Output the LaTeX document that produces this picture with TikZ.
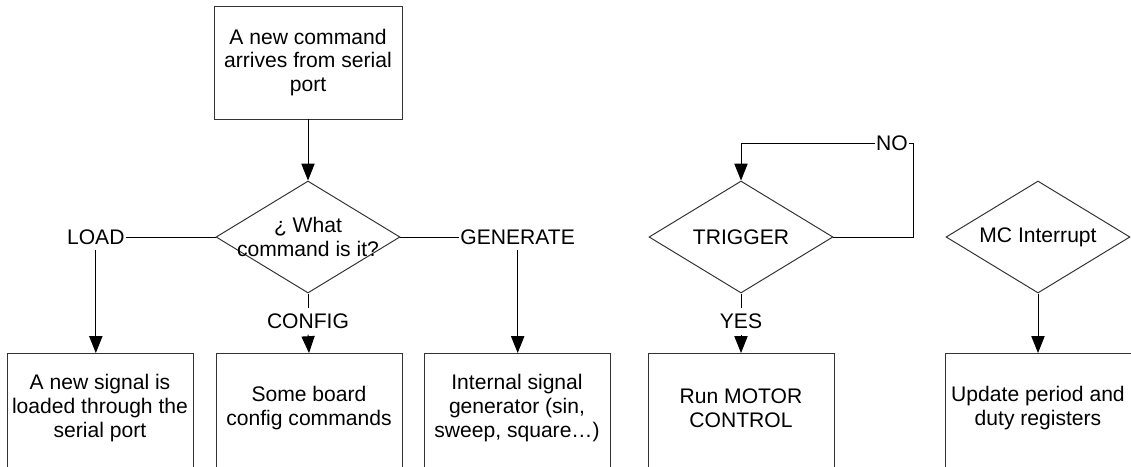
\documentclass[tikz,border=0pt]{standalone}
\usepackage{fontspec}
\setmainfont{Liberation Sans}
\usetikzlibrary{arrows.meta, positioning, shapes.geometric}

\begin{document}
\begin{tikzpicture}
\tikzset{
  block/.style={draw=black!80, line width=0.7pt, minimum width=4.65cm, minimum height=4cm, inner sep=0pt, anchor=north},
  decision/.style={draw=black!80, line width=0.7pt, diamond, minimum width=4.6cm, minimum height=2.8cm, inner sep=0pt},
  txt/.style={align=center, font=\fontsize{15}{17}\selectfont},
  tag/.style={font=\fontsize{15}{17}\selectfont, inner xsep=0.5pt, inner ysep=4pt},
  line/.style={draw=black, line width=0.7pt},
  arrow/.style={line, -{Triangle[width=0.33cm,length=0.42cm]}}
}

\clip (0,0) rectangle (28.275,-11.65);

\coordinate (T) at (7.7,-1.5625);
\coordinate (Q) at (7.7,-5.925);
\coordinate (G) at (18.525,-5.925);
\coordinate (M) at (25.95,-5.925);
\coordinate (C) at (22.825,-3.575);

\node[block, minimum width=4.7cm, minimum height=2.825cm, anchor=center, txt] (arrive) at (T) {A new command\\arrives from serial\\port};

\node[decision] (what) at (Q) {};
\node[txt] (whattxt) at (what) {¿ What\\command is it?};
\node[decision] (trig) at (G) {};
\node[txt] (trigtxt) at (trig) {TRIGGER};
\node[decision] (mc) at (M) {};
\node[txt] (mctxt) at (mc) {MC Interrupt};

\node[tag, left=2.25cm of what] (load) {LOAD};
\node[tag, right=1.475cm of what] (gen) {GENERATE};
\node[tag, below=0.36cm of what] (conf) {CONFIG};
\node[tag, below=0.36cm of trig] (yes) {YES};
\node[tag] (no) at (22.3,-3.575) {NO};

\node[block] (sig) at (2.5,-8.825) {};
\node[block] (board) at (7.725,-8.825) {};
\node[block] (intgen) at (12.925,-8.825) {};
\node[block] (run) at (18.525,-8.825) {};
\node[block] (upd) at (25.95,-8.825) {};

\node[txt] (sigtxt) at (2.5,-10.2) {A new signal is\\loaded through the\\serial port};
\node[txt] (boardtxt) at (7.725,-10.2) {Some board\\config commands};
\node[txt] (intgentxt) at (12.925,-10.2) {Internal signal\\generator (sin,\\sweep, square\dots)};
\node[txt] (runtxt) at (18.525,-10.2) {Run MOTOR\\CONTROL};
\node[txt] (updtxt) at (25.95,-10.2) {Update period and\\duty registers};

\draw[arrow] (arrive) -- (what);
\draw[line] (what.west) -- (load.east);
\draw[line] (what.east) -- (gen.west);
\draw[line] (what.south) -- (conf.north);
\draw[arrow] (load.south) -- (load.south |- sig.north);
\draw[arrow] (conf.south) -- (board.north);
\draw[arrow] (gen.south) -- (gen.south |- intgen.north);

\draw[line] (trig.east) -| (C) -- (no.east);
\draw[arrow] (no.west) -| (trig.north);
\draw[line] (trig.south) -- (yes.north);
\draw[arrow] (yes.south) -- (run.north);

\draw[arrow] (mc.south) -- (upd.north);
\end{tikzpicture}
\end{document}
